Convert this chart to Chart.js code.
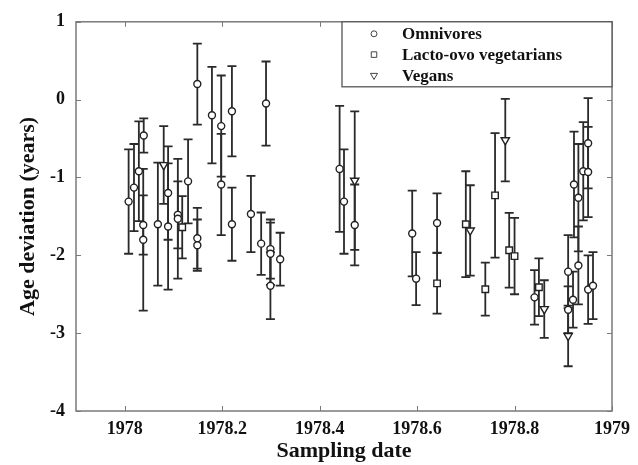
<!DOCTYPE html>
<html>
<head>
<meta charset="utf-8">
<script src="https://cdn.jsdelivr.net/npm/chart.js@4.4.0/dist/chart.umd.min.js"></script>
<style>
  html, body { margin: 0; padding: 0; background: #fff; }
</style>
</head>
<body>
<canvas id="ageChart" width="638" height="465"></canvas>
<script>
/* series names */
const seriesNames = ['Omnivores', 'Lacto-ovo vegetarians', 'Vegans']

/* Omnivores: sampling date, age deviation, error */
const omniDates = [1978.008, 1978.019, 1978.029, 1978.039, 1978.038, 1978.038, 1978.068, 1978.089, 1978.089,
  1978.109, 1978.109, 1978.130, 1978.149, 1978.149, 1978.149, 1978.179, 1978.198, 1978.198, 1978.220, 1978.220,
  1978.259, 1978.280, 1978.290, 1978.299, 1978.299, 1978.299, 1978.319, 1978.441, 1978.450, 1978.472,
  1978.590, 1978.598, 1978.641, 1978.841, 1978.910, 1978.910, 1978.920, 1978.922, 1978.931, 1978.931,
  1978.941, 1978.951, 1978.951, 1978.951, 1978.961]
const omniAge = [-1.31, -1.13, -0.92, -0.46, -1.61, -1.80, -1.60, -1.20, -1.63,
  -1.48, -1.53, -1.05, 0.20, -1.78, -1.87, -0.20, -0.34, -1.09, -0.15, -1.60,
  -1.47, -1.85, -0.05, -1.92, -1.98, -2.39, -2.05, -0.89, -1.31, -1.61,
  -1.72, -2.30, -1.585, -2.54, -2.21, -2.70, -2.57, -1.09, -1.26, -2.13,
  -0.92, -0.56, -0.93, -2.44, -2.39]
const omniErr = [0.67, 0.56, 0.64, 0.22, 0.38, 0.91, 0.79, 0.60, 0.81,
  0.43, 0.77, 0.54, 0.52, 0.39, 0.33, 0.62, 0.65, 0.65, 0.58, 0.47,
  0.49, 0.40, 0.54, 0.38, 0.40, 0.43, 0.34, 0.81, 0.67, 0.52,
  0.55, 0.34, 0.38, 0.35, 0.47, 0.30, 0.36, 0.68, 0.69, 0.50,
  0.63, 0.58, 0.58, 0.44, 0.43]

/* Lacto-ovo vegetarians */
const lactoDates = [1978.118, 1978.641, 1978.700, 1978.740, 1978.760, 1978.789, 1978.800, 1978.850]
const lactoAge = [-1.64, -2.36, -1.60, -2.435, -1.23, -1.935, -2.01, -2.41]
const lactoErr = [0.40, 0.39, 0.68, 0.34, 0.80, 0.48, 0.49, 0.37]

/* Vegans */
const veganDates = [1978.080, 1978.472, 1978.709, 1978.781, 1978.861, 1978.910]
const veganAge = [-0.84, -1.04, -1.68, -0.52, -2.69, -3.035]
const veganErr = [0.50, 0.89, 0.58, 0.53, 0.37, 0.39]

/* axis ticks */
const xTickValues = [1978, 1978.2, 1978.4, 1978.6, 1978.8, 1979]
const xTickLabels = ['1978', '1978.2', '1978.4', '1978.6', '1978.8', '1979']
const yTickValues = [-4, -3, -2, -1, 0, 1]
const yTickLabels = ['-4', '-3', '-2', '-1', '0', '1']

const markerStyles = [
  { pointStyle: 'circle', radius: 3.5, rotation: 0 },
  { pointStyle: 'rect', radius: 4.6, rotation: 0 },
  { pointStyle: 'triangle', radius: 4.8, rotation: 180 }
]

function toPoints(dates, ages){
  return dates.map((d, i) => ({ x: d, y: ages[i] }))
}

const serif = 'Liberation Serif, Times New Roman, serif'

/* error bars under the markers */
const errorBars = {
  id: 'errorBars',
  beforeDatasetsDraw(chart){
    const ctx = chart.ctx
    const xs = chart.scales.x, ys = chart.scales.y
    ctx.save()
    ctx.strokeStyle = '#2a2a2a'
    ctx.lineWidth = 1.8
    chart.data.datasets.forEach(ds => {
      ds.data.forEach((p, i) => {
        const px = xs.getPixelForValue(p.x)
        const top = ys.getPixelForValue(p.y + ds.errors[i])
        const bot = ys.getPixelForValue(p.y - ds.errors[i])
        ctx.beginPath()
        ctx.moveTo(px, top); ctx.lineTo(px, bot)
        ctx.moveTo(px - 4.5, top); ctx.lineTo(px + 4.5, top)
        ctx.moveTo(px - 4.5, bot); ctx.lineTo(px + 4.5, bot)
        ctx.stroke()
      })
    })
    ctx.restore()
  }
}

/* box round the plot, inward ticks on all sides, legend box */
const frameAndLegend = {
  id: 'frameAndLegend',
  afterDraw(chart){
    const ctx = chart.ctx
    const a = chart.chartArea
    const xs = chart.scales.x, ys = chart.scales.y
    ctx.save()
    ctx.strokeStyle = '#7a7a7a'
    ctx.lineWidth = 1.5
    ctx.strokeRect(a.left, a.top, a.right - a.left, a.bottom - a.top)
    ctx.beginPath()
    xTickValues.forEach(v => {
      const px = Math.round(xs.getPixelForValue(v)) + 0.5
      ctx.moveTo(px, a.bottom); ctx.lineTo(px, a.bottom - 5)
      ctx.moveTo(px, a.top); ctx.lineTo(px, a.top + 5)
    })
    yTickValues.forEach(v => {
      const py = Math.round(ys.getPixelForValue(v)) + 0.5
      ctx.moveTo(a.left, py); ctx.lineTo(a.left + 5, py)
      ctx.moveTo(a.right, py); ctx.lineTo(a.right - 5, py)
    })
    ctx.lineWidth = 1
    ctx.stroke()

    // legend
    const lx = a.left + 266, ly = a.top, lw = a.right - lx, lh = 65
    ctx.fillStyle = '#fff'
    ctx.fillRect(lx, ly, lw, lh)
    ctx.strokeStyle = '#555'
    ctx.lineWidth = 1.3
    ctx.strokeRect(lx, ly, lw, lh)
    ctx.font = 'bold 17px ' + serif
    ctx.textBaseline = 'middle'
    ctx.textAlign = 'left'
    seriesNames.forEach((name, i) => {
      const cy = ly + 12 + i * 20.8
      const m = markerStyles[i]
      ctx.strokeStyle = '#444'
      ctx.fillStyle = '#fff'
      ctx.lineWidth = 1
      Chart.helpers.drawPoint(ctx, {
        pointStyle: m.pointStyle, radius: m.radius * 0.85,
        rotation: m.rotation, borderWidth: 1
      }, lx + 32, cy)
      ctx.fillStyle = '#111'
      ctx.fillText(name, lx + 60, cy + 1)
    })
    ctx.restore()
  }
}

const data = {
  datasets: [
    { label: seriesNames[0], data: toPoints(omniDates, omniAge), errors: omniErr },
    { label: seriesNames[1], data: toPoints(lactoDates, lactoAge), errors: lactoErr },
    { label: seriesNames[2], data: toPoints(veganDates, veganAge), errors: veganErr }
  ].map((ds, i) => Object.assign(ds, {
    pointStyle: markerStyles[i].pointStyle,
    pointRadius: markerStyles[i].radius,
    rotation: markerStyles[i].rotation,
    pointBackgroundColor: '#fff',
    pointBorderColor: '#222',
    pointBorderWidth: 1.4,
    showLine: false
  }))
}

const config = {
  type: 'scatter',
  data: data,
  options: {
    responsive: false,
    animation: false,
    events: [],
    devicePixelRatio: 1,
    layout: { padding: { left: 0, right: 24, top: 17, bottom: 0 } },
    plugins: { legend: { display: false }, tooltip: { enabled: false } },
    scales: {
      x: {
        type: 'linear',
        min: 1977.9,
        max: 1979,
        afterBuildTicks: s => { s.ticks = xTickValues.map(v => ({ value: v })) },
        afterFit: s => { s.height = 54 },
        grid: { display: false, drawTicks: false },
        border: { display: false },
        ticks: {
          padding: 8,
          maxRotation: 0,
          color: '#111',
          font: { family: serif, size: 18, weight: 'bold' },
          callback: (v, i) => xTickLabels[i]
        },
        title: {
          display: true,
          text: 'Sampling date',
          color: '#111',
          font: { family: serif, size: 22, weight: 'bold' },
          padding: { top: 0, bottom: 0 }
        }
      },
      y: {
        min: -4,
        max: 1,
        afterBuildTicks: s => { s.ticks = yTickValues.map(v => ({ value: v })) },
        afterFit: s => { s.width = 76 },
        grid: { display: false, drawTicks: false },
        border: { display: false },
        ticks: {
          padding: 11,
          color: '#111',
          font: { family: serif, size: 18, weight: 'bold' },
          callback: (v, i) => yTickLabels[i]
        },
        title: {
          display: true,
          text: 'Age deviation (years)',
          color: '#111',
          font: { family: serif, size: 22, weight: 'bold' },
          padding: { top: 15, bottom: 0 }
        }
      }
    }
  },
  plugins: [errorBars, frameAndLegend]
}

const ageChart = new Chart(document.getElementById('ageChart'), config)
</script>
</body>
</html>
